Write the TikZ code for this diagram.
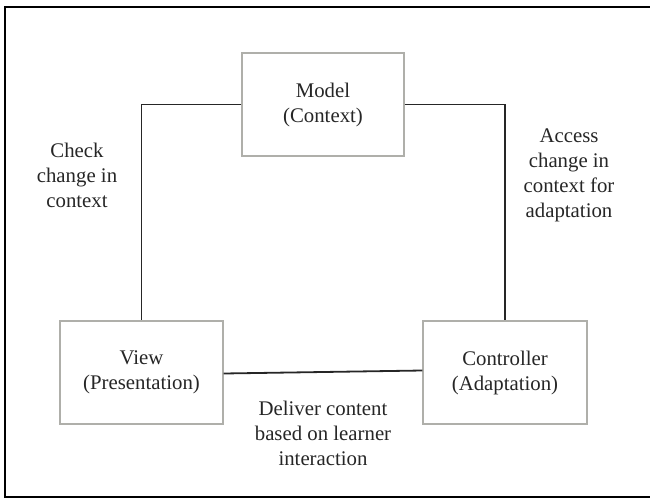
\documentclass[tikz,border=0pt]{standalone}
\usepackage{fontspec}
\setmainfont{Liberation Serif}
\begin{document}
\begin{tikzpicture}[x=1pt,y=-1pt,
  box/.style={draw=boxgray, line width=1.2pt, fill=white, minimum width=163pt, minimum height=103pt, inner sep=0pt, align=center, font=\fontsize{20.8}{25}\selectfont, text=black!85},
  lbl/.style={align=center, inner sep=0pt, font=\fontsize{20.8}{25}\selectfont, text=black!85},
  conn/.style={draw=black!85, line width=1.8pt},
  frame/.style={draw=black, line width=2pt}]
\definecolor{boxgray}{RGB}{175,175,170}
\useasboundingbox (0,0) rectangle (650,498);
\coordinate (f1) at (650,6.5);
\coordinate (f2) at (5,6.5);
\coordinate (f3) at (5,497);
\coordinate (f4) at (650,497);
\draw[frame] (f1) -- (f2) -- (f3) -- (f4);
\node[box, minimum width=162pt] (model) at (323,104.5) {Model\\(Context)};
\node[box] (view) at (141.5,372.5) {View\\(Presentation)};
\node[box, minimum width=164pt] (ctrl) at (505,372.5) {Controller\\(Adaptation)};
\draw[conn] (model.west) -| (view.north);
\draw[conn] (model.east) -| (ctrl.north);
\draw[conn] ([yshift=-1pt]view.east) -- ([yshift=2pt]ctrl.west);
\node[lbl] (l1) at (77,175) {Check\\change in\\context};
\node[lbl] (l2) at (569,175) {Access\\change in\\context for\\adaptation};
\node[lbl] (l3) at (323,433) {Deliver content\\based on learner\\interaction};
\end{tikzpicture}
\end{document}
